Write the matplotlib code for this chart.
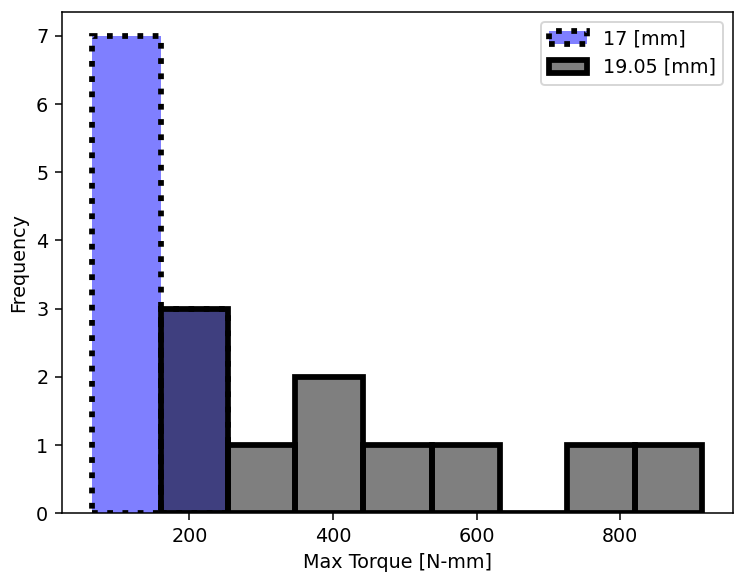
import matplotlib.pyplot as plt
import numpy as np

# Max torque histograms for the two shaft diameters
edges_17 = [64.6, 159.8, 253.1]
counts_17 = [7, 3]

edges_1905 = [159.8, 253.1, 347.7, 441.6, 537.2, 632.9, 725.7, 820.0, 914.3]
counts_1905 = [3, 1, 2, 1, 1, 0, 1, 1]

dpi = 138
fig = plt.figure(figsize=(735 / dpi, 576 / dpi), dpi=dpi)
ax = fig.add_axes([0.084, 0.109, 0.913, 0.870])

ax.hist(edges_17[:-1], bins=edges_17, weights=counts_17,
        facecolor=(0, 0, 1, 0.5), edgecolor='k', linewidth=3,
        linestyle=':', label='17 [mm]')
ax.hist(edges_1905[:-1], bins=edges_1905, weights=counts_1905,
        facecolor=(0, 0, 0, 0.5), edgecolor='k', linewidth=3,
        label='19.05 [mm]')

ax.set_xlabel('Max Torque [N-mm]')
ax.set_ylabel('Frequency')
ax.legend(loc='upper right')

fig.savefig('out.png', dpi=dpi)
